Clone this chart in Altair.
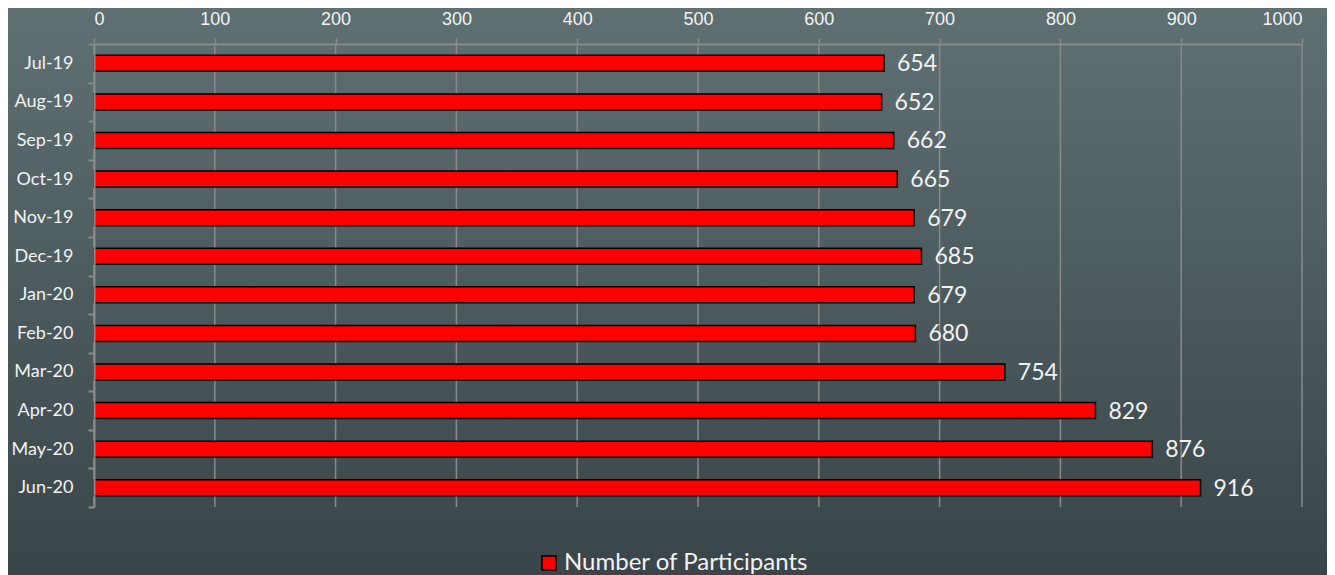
import altair as alt
import pandas as pd

months = ["Jul-19", "Aug-19", "Sep-19", "Oct-19", "Nov-19", "Dec-19",
          "Jan-20", "Feb-20", "Mar-20", "Apr-20", "May-20", "Jun-20"]
participants = [654, 652, 662, 665, 679, 685, 679, 680, 754, 829, 876, 916]
series_name = "Number of Participants"
x_ticks = [0, 100, 200, 300, 400, 500, 600, 700, 800, 900, 1000]

df = pd.DataFrame({"month": months, "value": participants, "series": series_name})
grid_df = pd.DataFrame({"tick": x_ticks})

W, H = 1208, 463
PL, PT, PR, PB = 86, 36, 25, 68
FONT = "Lato"
TXT = "#f2f2f2"
GRID = "#8a8a8a"

xscale = alt.Scale(domain=[0, 1000], nice=False, zero=True)
xaxis = alt.Axis(orient="top", values=x_ticks, grid=False, format="d",
                 domainColor=GRID, domainWidth=2,
                 tickColor=GRID, tickWidth=1.5, tickSize=6,
                 labelPadding=9.5, labelFontSize=18, labelColor=TXT,
                 labelFont="Liberation Sans", zindex=1, title=None)

bg = alt.Chart(alt.Data(values=[{"a": 1}])).mark_rect(
    fill=alt.LinearGradient(
        gradient="linear", x1=0, y1=0, x2=0, y2=1,
        stops=[alt.GradientStop(offset=0, color="#5f7073"),
               alt.GradientStop(offset=1, color="#394548")]
    )
).encode(
    x=alt.value(-PL), x2=alt.value(W + PR),
    y=alt.value(-PT), y2=alt.value(H + PB)
)

gridlines = alt.Chart(grid_df).mark_rule(color=GRID, strokeWidth=1.5).encode(
    x=alt.X("tick:Q", scale=xscale, axis=xaxis, title=None),
    y=alt.value(0), y2=alt.value(H)
)

base = alt.Chart(df)

ysc = alt.Y("month:N", sort=months, title=None,
            scale=alt.Scale(paddingInner=0, paddingOuter=0),
            axis=alt.Axis(tickBand="extent", domainColor=GRID, domainWidth=2,
                          tickColor=GRID, tickWidth=2, tickSize=6,
                          labelPadding=15, labelFontSize=18, labelColor=TXT,
                          labelFont=FONT, grid=False, zindex=1))

bars = base.mark_bar(color="#ff0000", stroke="#000000", strokeWidth=1.5,
                     size=16).encode(
    x=alt.X("value:Q", title=None, scale=xscale, axis=xaxis),
    y=ysc,
    color=alt.Color("series:N", scale=alt.Scale(range=["#ff0000"]),
                    legend=alt.Legend(title=None, orient="none",
                                      legendX=443, legendY=507,
                                      symbolType="square", symbolSize=200,
                                      symbolStrokeColor="#000000",
                                      symbolStrokeWidth=1.5,
                                      symbolFillColor="#ff0000",
                                      labelFontSize=24, labelColor=TXT,
                                      labelFont=FONT, labelOffset=3,
                                      labelLimit=0, zindex=1)),
)

labels = base.mark_text(align="left", baseline="middle", dx=13, dy=1,
                        fontSize=23, font=FONT, color=TXT).encode(
    x=alt.X("value:Q", scale=xscale, axis=xaxis),
    y=alt.Y("month:N", sort=months),
    text="value:Q",
)

chart = alt.layer(bg, gridlines, bars, labels).properties(
    width=W, height=H,
    autosize=alt.AutoSizeParams(type="none"),
    padding={"left": PL, "top": PT, "right": PR, "bottom": PB},
    background="#394548",
).configure_view(stroke=None)

chart.save("out.html", embed_options={"renderer": "svg", "actions": False})
